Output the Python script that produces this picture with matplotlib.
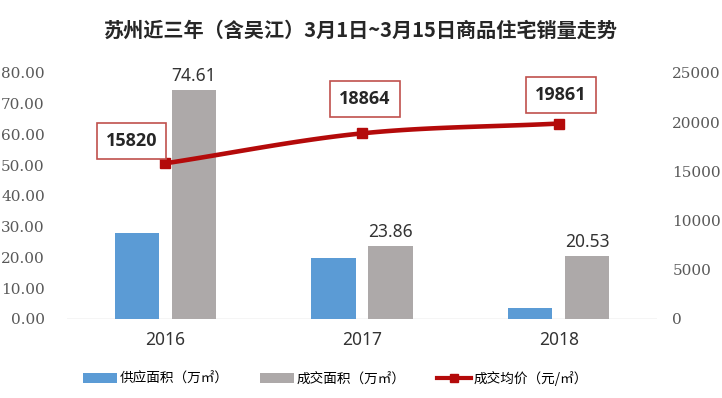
import matplotlib
matplotlib.use('Agg')
import matplotlib.pyplot as plt
import numpy as np

plt.rcParams['font.family'] = ['Noto Sans CJK SC', 'DejaVu Sans']

TITLE = "苏州近三年（含吴江）3月1日~3月15日商品住宅销量走势"
years = ['2016', '2017', '2018']
supply = [28.0, 19.8, 3.6]          # 供应面积 (万㎡)
deal = [74.61, 23.86, 20.53]        # 成交面积 (万㎡)
price = [15820, 18864, 19861]       # 成交均价 (元/㎡)

BLUE = '#5B9BD5'
GRAY = '#ADA9A9'
RED = '#B40A0A'
BAR_W = 0.225
OFFSET = 0.145

fig = plt.figure(figsize=(7.22, 3.98), dpi=100)
ax = fig.add_axes([0.0928, 0.1985, 0.8172, 0.6181])
ax2 = ax.twinx()

x = np.arange(len(years))
ax.bar(x - OFFSET, supply, BAR_W, color=BLUE, label='供应面积（万㎡）', zorder=2)
ax.bar(x + OFFSET, deal, BAR_W, color=GRAY, label='成交面积（万㎡）', zorder=2)
for xi, v in zip(x, deal):
    ax.text(xi + OFFSET, v + 1.5, f'{v:.2f}', ha='center', va='bottom',
            fontsize=12.5, color='#333333', family=['Noto Sans', 'DejaVu Sans'])

# smooth curve through the points (Catmull-Rom, like Excel's smoothed line)
px = np.array(x, dtype=float)
py = np.array(price, dtype=float)
ext_x = np.concatenate([[2 * px[0] - px[1]], px, [2 * px[-1] - px[-2]]])
ext_y = np.concatenate([[2 * py[0] - py[1]], py, [2 * py[-1] - py[-2]]])
cx, cy = [], []
t = np.linspace(0, 1, 40)
for i in range(1, len(ext_x) - 2):
    p0, p1, p2, p3 = [np.array([ext_x[j], ext_y[j]]) for j in range(i - 1, i + 3)]
    for tt in t:
        pt = 0.5 * ((2 * p1) + (-p0 + p2) * tt + (2 * p0 - 5 * p1 + 4 * p2 - p3) * tt ** 2
                    + (-p0 + 3 * p1 - 3 * p2 + p3) * tt ** 3)
        cx.append(pt[0]); cy.append(pt[1])
ax2.plot(cx, cy, color=RED, lw=3.3, zorder=3, solid_capstyle='round')
ax2.plot(px, py, 's', color=RED, ms=7, zorder=4)
line_handle, = ax2.plot([], [], color=RED, lw=3, marker='s', ms=6, label='成交均价（元/㎡）')

# label box offsets in pixels from the point
label_offsets = [(-34, 22), (3, 34), (2, 29)]
for xi, v, (dx, dy) in zip(px, price, label_offsets):
    ax2.annotate(str(v), (xi, v), xytext=(dx, dy), textcoords='offset pixels',
                 ha='center', va='center', fontsize=13, fontweight='bold', color='#262626',
                 family=['Open Sans', 'DejaVu Sans'],
                 bbox=dict(boxstyle='square,pad=0.5', fc='white', ec='#C0504D', lw=1.2),
                 zorder=5)

ax.set_xlim(-0.5, 2.5)
ax.set_ylim(0, 80)
ax2.set_ylim(0, 25000)
ax.set_yticks(np.arange(0, 81, 10))
ax.set_yticklabels([f'{v:.2f}' for v in np.arange(0, 81, 10)])
ax2.set_yticks(np.arange(0, 25001, 5000))
ax.set_xticks(x)
ax.set_xticklabels(years, fontsize=12.5, color='#333333', family=['Noto Sans', 'DejaVu Sans'])

for a in (ax, ax2):
    for s in ['top', 'left', 'right', 'bottom']:
        a.spines[s].set_visible(False)
    a.tick_params(length=0)
ax.axhline(0, color='#D0D0D0', lw=1, zorder=1)
ax.tick_params(axis='y', pad=16)
ax.tick_params(axis='x', pad=9)
ax2.tick_params(axis='y', pad=11)
for lab in ax.get_yticklabels() + ax2.get_yticklabels():
    lab.set_family(['DejaVu Serif'])
    lab.set_fontsize(11)
    lab.set_color('#595959')

fig.text(0.5, 0.925, TITLE, ha='center', va='center', fontsize=14.5, fontweight='bold',
         color='#262626')

h1, l1 = ax.get_legend_handles_labels()
fig.legend(h1 + [line_handle], l1 + [line_handle.get_label()], loc='center left',
           bbox_to_anchor=(0.105, 0.05), ncol=3, frameon=False, fontsize=9.8,
           handlelength=2.5, handletextpad=0.2, columnspacing=2.3, borderpad=0)

fig.savefig('out.png', dpi=100)
